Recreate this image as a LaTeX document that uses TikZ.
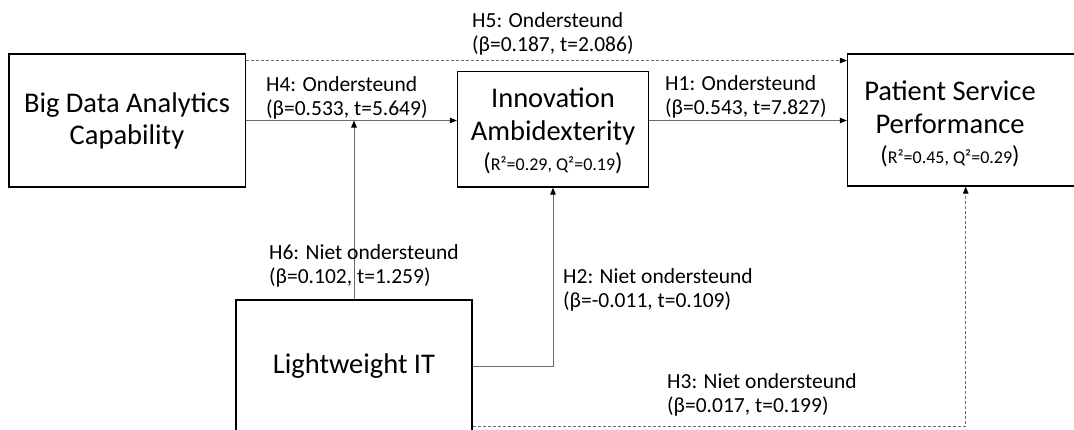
\documentclass[tikz,border=0pt]{standalone}
\usepackage{fontspec}
\setmainfont{Carlito}
\usetikzlibrary{arrows.meta}
\newcommand\rsqpair[2]{{\fontsize{24.5}{28}\selectfont(}{\fontsize{18}{20}\selectfont R²=#1, Q²=#2}{\fontsize{24.5}{28}\selectfont)}}
\begin{document}
\begin{tikzpicture}[x=1pt,y=-1pt,
  box/.style={draw=black,line width=1.3pt,inner sep=0pt},
  arr/.style={draw=black!58,line width=0.9pt,-{Triangle[length=7pt,width=5.5pt,color=black]}},
  dsh/.style={dash pattern=on 3pt off 2pt},
  lbl/.style={font=\fontsize{21.5}{23.5}\selectfont,align=left,anchor=west,inner sep=0pt},
  ttl/.style={font=\fontsize{28.5}{32.5}\selectfont,align=center,inner sep=0pt}]
\useasboundingbox (0,0) rectangle (1074,429);
% boxes
\node[box,minimum width=236.5pt,minimum height=133pt] (bdac) at (127.25,120.5) {};
\node[box,minimum width=191pt,minimum height=115.5pt] (ia) at (553,129.25) {};
\node[box,minimum width=228.5pt,minimum height=132pt] (psp) at (961.75,120) {};
\node[box,minimum width=236pt,minimum height=132pt] (lit) at (354,366) {};
% box texts
\node[ttl] (tb) at (127,121) {Big Data Analytics\\Capability};
\node[ttl] (ti) at (553,131) {Innovation\\Ambidexterity\\[-2.5pt]\rsqpair{0.29}{0.19}};
\node[ttl] (tp) at (950,124) {Patient Service\\Performance\\[-2.5pt]\rsqpair{0.45}{0.29}};
\node[ttl] (tl) at (354,366) {Lightweight IT};
% helper coordinates
\coordinate (yH5) at (0,60.5);
\coordinate (yH) at (0,120.5);
\coordinate (yH3) at (0,426);
\coordinate (xH3) at (965.7,0);
% connectors
\draw[arr,dsh] (bdac.east |- yH5) -- (psp.west |- yH5);
\draw[arr] (bdac.east |- yH) -- (ia.west |- yH);
\draw[arr] (ia.east |- yH) -- (psp.west |- yH);
\draw[arr] (lit.north) -- (lit.north |- yH);
\draw[arr] (lit.east) -| (ia.south);
\draw[arr,dsh] (lit.east |- yH3) -| (xH3 |- psp.south);
% labels
\node[lbl] (l5) at (472,34) {H5: Ondersteund\\(β=0.187, t=2.086)};
\node[lbl] (l4) at (266,98) {H4: Ondersteund\\(β=0.533, t=5.649)};
\node[lbl] (l1) at (665,97) {H1: Ondersteund\\(β=0.543, t=7.827)};
\node[lbl] (l6) at (269,266) {H6: Niet ondersteund\\(β=0.102, t=1.259)};
\node[lbl] (l2) at (563,290) {H2: Niet ondersteund\\(β=-0.011, t=0.109)};
\node[lbl] (l3) at (667,395) {H3: Niet ondersteund\\(β=0.017, t=0.199)};
\end{tikzpicture}
\end{document}
